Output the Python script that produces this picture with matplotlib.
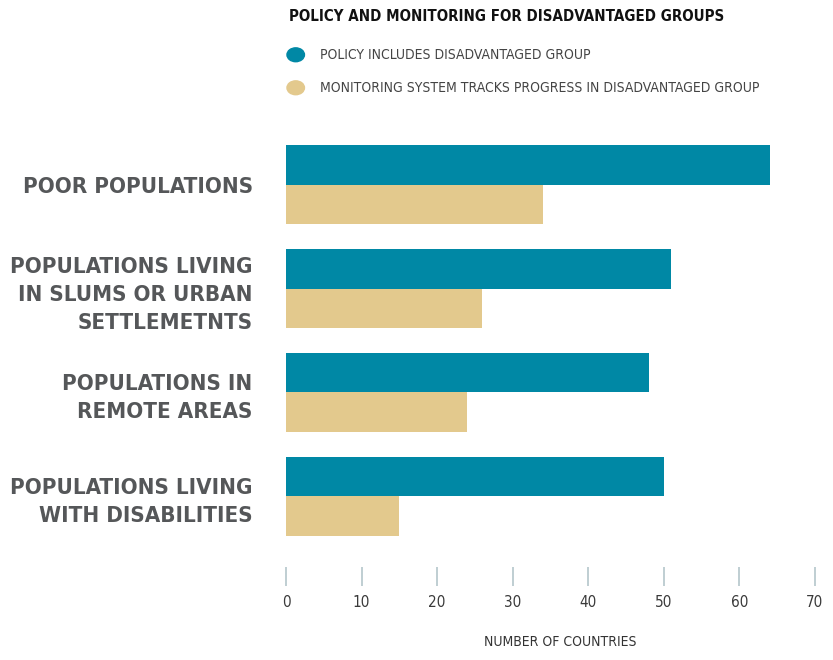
import matplotlib.pyplot as plt
import numpy as np

groups = ['POOR POPULATIONS',
          'POPULATIONS LIVING\nIN SLUMS OR URBAN\nSETTLEMETNTS',
          'POPULATIONS IN\nREMOTE AREAS',
          'POPULATIONS LIVING\nWITH DISABILITIES']
policy = [64, 51, 48, 50]
monitoring = [34, 26, 24, 15]
xticks = [0, 10, 20, 30, 40, 50, 60, 70]

teal = '#0088a5'
tan = '#e3c98d'
grey = '#555759'

plt.rcParams['font.family'] = ['DejaVu Sans']
plt.rcParams['font.stretch'] = 'condensed'

fig = plt.figure(figsize=(8.33, 6.6), dpi=100)
ax = fig.add_axes([0.3433, 0.1697, 0.635, 0.6288])

y = np.arange(len(groups))
h = 0.38
ax.barh(y - h / 2, policy, height=h, color=teal)
ax.barh(y + h / 2, monitoring, height=h, color=tan)

ax.set_xlim(0, 70)
ax.set_ylim(3.5, -0.5)
for s in ax.spines.values():
    s.set_visible(False)
ax.spines['bottom'].set_position(('outward', 14))

ax.set_yticks(y)
ax.set_yticklabels(groups, fontsize=16, fontweight='bold', color=grey,
                   ha='right', linespacing=1.5)
ax.tick_params(axis='y', length=0, pad=24)

ax.set_xticks(xticks)
ax.tick_params(axis='x', direction='out', length=14, width=1.2,
               color='#b4c6cb', labelsize=11, labelcolor='#3a3a3a', pad=6)

fig.text(0.672, 0.028, 'NUMBER OF COUNTRIES', fontsize=10, color='#333333',
         ha='center', va='center')

# legend block
fig.text(0.347, 0.975, 'POLICY AND MONITORING FOR DISADVANTAGED GROUPS',
         fontsize=10.8, fontweight='bold', color='#111111', va='center')
for yy, col, lab in [(0.917, teal, 'POLICY INCLUDES DISADVANTAGED GROUP'),
                     (0.867, tan, 'MONITORING SYSTEM TRACKS PROGRESS IN DISADVANTAGED GROUP')]:
    fig.patches.append(plt.Circle((0.355, yy), 0.0105, transform=fig.transFigure,
                                  color=col, figure=fig))
    fig.text(0.384, yy, lab, fontsize=10, color='#444444', va='center')

fig.savefig('out.png', dpi=100)
